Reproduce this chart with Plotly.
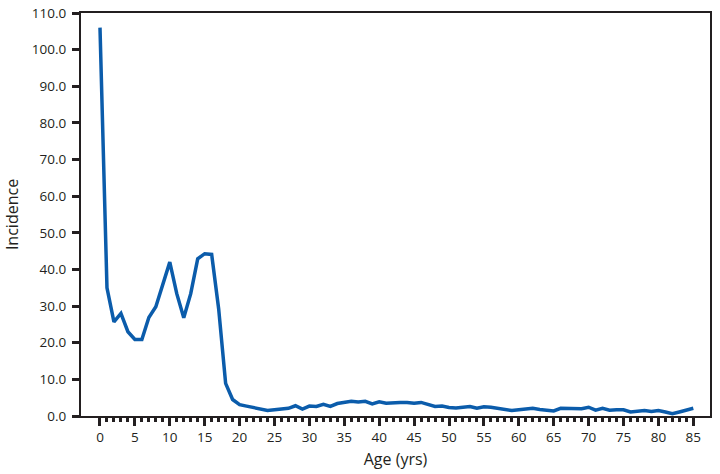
import plotly.graph_objects as go

ages = list(range(0, 86))
incidence = [
    106.0, 35.0, 25.7, 28.0, 23.0, 20.9, 20.9, 26.9, 29.8, 35.7,
    42.0, 33.4, 26.8, 33.4, 42.9, 44.3, 44.1, 29.3, 8.9, 4.5,
    3.1, 2.7, 2.3, 1.9, 1.5, 1.7, 1.9, 2.1, 2.8, 1.9,
    2.7, 2.6, 3.2, 2.6, 3.4, 3.6, 4.0, 3.8, 4.0, 3.3,
    3.9, 3.5, 3.7, 3.7, 3.7, 3.5, 3.7, 3.2, 2.6, 2.7,
    2.3, 2.2, 2.4, 2.6, 2.1, 2.5, 2.4, 2.1, 1.8, 1.5,
    1.7, 1.9, 2.1, 1.8, 1.7, 1.4, 2.1, 2.1, 1.9, 2.0,
    2.4, 1.6, 2.1, 1.6, 1.7, 1.7, 1.1, 1.2, 1.5, 1.2,
    1.5, 1.1, 0.6, 1.1, 1.5, 2.1,
]
x_major = list(range(0, 86, 5))
x_minor = [a for a in range(0, 86) if a % 5 != 0]
y_ticks = [i * 10 for i in range(0, 12)]
y_labels = [f"{v:.1f}" for v in y_ticks]

ink = "#231f20"
font_family = "Open Sans, Noto Sans, sans-serif"

fig = go.Figure()
fig.add_trace(go.Scatter(
    x=ages, y=incidence, mode="lines",
    line=dict(color="#0b5cab", width=3.5),
    hoverinfo="skip", showlegend=False,
))

fig.update_layout(
    template="none",
    width=720, height=474,
    margin=dict(l=81, r=10, t=13, b=58),
    paper_bgcolor="white", plot_bgcolor="white",
    font=dict(family=font_family, color=ink, size=13),
    xaxis=dict(
        automargin=False,
        range=[-2.72, 87.39],
        tickmode="array", tickvals=x_major, ticktext=[str(v) for v in x_major],
        ticks="outside", ticklen=8, tickwidth=3, tickcolor=ink,
        minor=dict(tickmode="array", tickvals=x_minor, ticks="outside",
                   ticklen=4, tickwidth=3, tickcolor=ink),
        showline=True, linecolor=ink, linewidth=2, mirror=True,
        showgrid=False, zeroline=False,
        title=dict(text="Age (yrs)", font=dict(size=16), standoff=9),
        tickfont=dict(size=13.5),
    ),
    yaxis=dict(
        automargin=False,
        range=[0, 110],
        tickmode="array", tickvals=y_ticks, ticktext=y_labels,
        ticks="outside", ticklen=7, tickwidth=3, tickcolor=ink,
        ticklabelstandoff=3,
        showline=True, linecolor=ink, linewidth=2, mirror=True,
        showgrid=False, zeroline=False,
        title=dict(text="Incidence", font=dict(size=16), standoff=9),
        tickfont=dict(size=13.5),
    ),
)

fig.write_html(
    "out.html",
    config={"displayModeBar": False},
    post_script="document.body.style.margin='0px';document.body.style.padding='0px';",
)
